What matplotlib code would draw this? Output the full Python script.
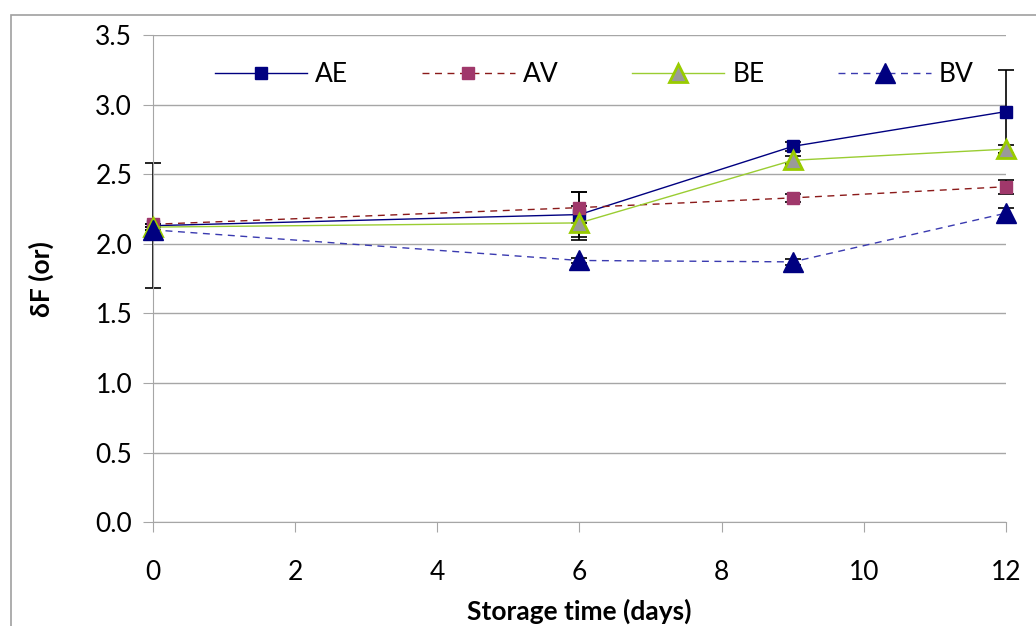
import matplotlib
matplotlib.use("Agg")
import matplotlib.pyplot as plt
from matplotlib.patches import Rectangle

days = [0, 6, 9, 12]
series_names = ["AE", "AV", "BE", "BV"]
ae = [2.13, 2.21, 2.70, 2.95]
av = [2.14, 2.26, 2.33, 2.41]
be = [2.12, 2.15, 2.60, 2.68]
bv = [2.10, 1.88, 1.87, 2.22]
ae_err = [0.45, 0.16, 0.03, 0.30]
av_err = [0.0, 0.11, 0.03, 0.05]
be_err = [0.0, 0.12, 0.03, 0.03]
bv_err = [0.0, 0.02, 0.02, 0.04]
x_ticks = [0, 2, 4, 6, 8, 10, 12]
y_ticks = [0.0, 0.5, 1.0, 1.5, 2.0, 2.5, 3.0, 3.5]

plt.rcParams['font.family'] = ['Lato', 'DejaVu Sans']

fig = plt.figure(figsize=(10.36, 6.26), dpi=100)
ax = fig.add_axes([0.1477, 0.166, 0.8233, 0.778])

# outer chart border
fig.patches.append(Rectangle((11/1036, -0.1), 1.2, (626-15)/626 + 0.1,
                             transform=fig.transFigure, fill=False,
                             edgecolor='#a0a0a0', linewidth=1.2))

styles = [
    dict(data=ae, err=ae_err, color='#000080', ls='-', marker='s', mfc='#000080', mec='#000080', ms=8.5, mew=1.0),
    dict(data=av, err=av_err, color='#8b1a1a', ls=(0, (5, 4)), marker='s', mfc='#a0386b', mec='#a0386b', ms=8.5, mew=1.0),
    dict(data=be, err=be_err, color='#9acd32', ls='-', marker='^', mfc='#9a9a9a', mec='#99cc00', ms=13, mew=2.0),
    dict(data=bv, err=bv_err, color='#3a3ab0', ls=(0, (5, 4)), marker='^', mfc='#000080', mec='#000080', ms=14, mew=1.0),
]

for name, s in zip(series_names, styles):
    eb = ax.errorbar(days, s['data'], yerr=s['err'], fmt='none', ecolor='black',
                     elinewidth=1.2, capsize=6, capthick=1.2, zorder=2)
    for art in eb.lines[1] + eb.lines[2]:
        art.set_clip_on(False)
    ax.plot(days, s['data'], color=s['color'], linestyle=s['ls'], linewidth=1.0,
            marker=s['marker'], markerfacecolor=s['mfc'], markeredgecolor=s['mec'],
            markeredgewidth=s['mew'], markersize=s['ms'], label=name, zorder=3,
            clip_on=False)

ax.set_xlim(0, 12)
ax.set_ylim(0, 3.5)
ax.set_xticks(x_ticks)
ax.set_yticks(y_ticks)
ax.set_yticklabels([f"{v:.1f}" for v in y_ticks])
ax.grid(axis='y', color='#a6a6a6', linewidth=1.0)
ax.set_axisbelow(True)
for side in ['top', 'right']:
    ax.spines[side].set_visible(False)
for side in ['left', 'bottom']:
    ax.spines[side].set_color('#a6a6a6')
ax.tick_params(axis='both', direction='out', length=7, color='#a6a6a6',
               labelsize=19)
ax.tick_params(axis='y', pad=8)
ax.tick_params(axis='x', pad=20)

ax.set_xlabel("Storage time (days)", fontsize=19, fontweight='bold', labelpad=10)
ax.set_ylabel("δF (or)", fontsize=19, fontweight='bold', labelpad=30)

leg = ax.legend(loc='center left', bbox_to_anchor=(0.0727, 0.918), ncol=4, frameon=False,
                fontsize=19, handlelength=3.5, columnspacing=2.8, handletextpad=0.3,
                borderpad=0, borderaxespad=0)

fig.savefig("out.png", dpi=100)
